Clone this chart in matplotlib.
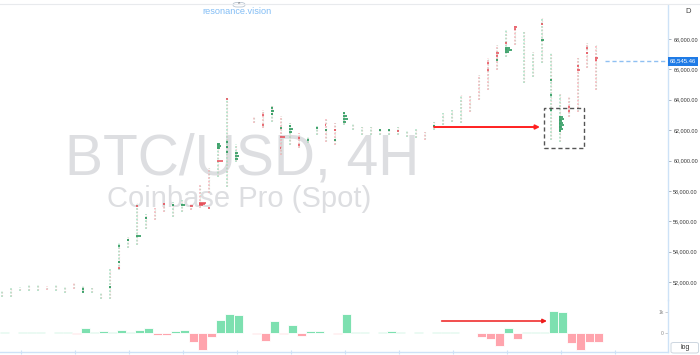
import matplotlib
matplotlib.use("Agg")
import matplotlib.pyplot as plt
import numpy as np
from matplotlib.transforms import blended_transform_factory
from matplotlib.patches import FancyBboxPatch, Rectangle
from matplotlib.lines import Line2D

plt.rcParams['font.family'] = ['Liberation Sans', 'DejaVu Sans']

# ---------------- data ----------------
highs = [51475, 51672, 51672, 51870, 51870, 51738, 51804, 51672, 51935, 51804,
         51607, 51343, 52857, 54569, 54964, 57202, 56478, 56873, 57268, 57268,
         57400, 57202, 58388, 59507, 61219, 64115, 61100, None, 62930, 63325,
         63655, 62930, 62469, 61811, 61548, 62338, 62733, 62469, 63194, 62469,
         62206, 62206, 62140, 62140, 62206, 62009, 62140, 61877, 62535, 63128,
         63325, 64313, 64313, 65630, 66749, 67605, 68593, 68856, 68461, 67144,
         69383, 67078, 64445, 64181, 66749, 67737, 67605]
lows = [51013, 51013, 51409, 51409, 51409, 51475, 51409, 51277, 51541, 51343,
        51277, 50882, 50882, 52791, 54240, 54437, 55490, 56083, 56610, 56280,
        56610, 56741, 56873, 57861, 58914, 58256, 59900, None, 62469, 62140,
        62535, 60363, 61021, 60823, 61153, 61679, 61219, 61021, 62338, 62009,
        61679, 61679, 61679, 61679, 61679, 61548, 61482, 61350, 62009, 62338,
        62535, 62469, 63194, 63984, 64642, 65959, 66815, 67605, 65103, 65498,
        66420, 61350, 61219, 62864, 63194, 66091, 64642]
delta = [48, 8, 48, 48, 48, -16, 48, 48, -63, 238,
         63, 95, 32, 159, 32, 127, 238, -79, -111, 79,
         159, -444, -825, -190, 635, 889, 857, None, -48, -381,
         555, -63, 397, -159, 79, 79, -16, -48, 920, 63,
         48, 8, 48, 79, 32, 8, 32, -16, 32, 48,
         32, 8, -16, -190, -286, -635, 254, -270, 48, 32,
         32, 1031, 1000, -476, -794, -444, -429]

# volume-profile clusters: candle index, price level, size (px), side
blob_candle = [9, 9, 12, 13, 13, 13, 14, 15, 15, 16, 18, 19, 20, 21, 22, 22, 22, 23,
               24, 24, 24, 24, 25, 25, 25, 25, 26, 26, 26, 29, 29, 30, 30, 30,
               31, 31, 31, 32, 32, 32, 33, 33, 34, 35, 36, 36, 37, 37,
               38, 38, 38, 38, 42, 43, 44, 48, 54, 54, 55, 55, 55,
               56, 56, 56, 56, 57, 57, 60, 60, 61, 61, 61,
               62, 62, 62, 62, 62, 62, 62, 62, 63, 63, 64, 64, 65, 65, 66, 66]
blob_price = [51541, 51343, 51672, 54371, 53318, 52923, 54767, 55030, 57005, 56215,
              57136, 57071, 57071, 57005, 57202, 57136, 57071, 56873,
              61087, 60955, 60823, 59968, 61219, 60889, 60560, 64050, 60494, 60297, 60099,
              62996, 62338, 63457, 63260, 63062, 62140, 61548, 60823, 62272, 62074, 61877,
              61482, 61021, 61350, 62140, 62009, 62338, 62009, 61350,
              63128, 62930, 62733, 62535, 62009, 62009, 61943, 62272, 66420, 65959,
              67078, 66881, 66617, 67737, 67407, 67276, 67144, 68790, 68658, 68988, 67934,
              65300, 64313, 63325,
              62864, 62733, 62601, 62469, 62338, 62206, 62074, 61943, 63260, 63523,
              65959, 66222, 67078, 67407, 66749, 66617]
blob_size = [2, 1.5, 1.5, 2, 2, 1.5, 1.5, 4.5, 2, 1.5, 2, 2, 3.5, 3, 7, 6, 4, 1.5,
             3, 4, 3, 6, 2, 2, 2, 2, 3, 4, 3, 1.5, 1.5, 2, 3, 2,
             2, 4.5, 1, 2, 3.5, 2.5, 2, 1.5, 1.5, 1.5, 1.5, 1, 2, 1.5,
             2, 4, 5, 3, 1.5, 1.5, 1.5, 1.5, 2, 2, 3, 2, 2,
             2, 5, 7, 4, 3, 2, 2, 3, 1.5, 1.5, 1.5,
             4, 5, 3, 4, 5, 3, 4, 2, 2, 1.5, 3, 2, 2, 1.5, 3, 2]
blob_side = ['g', 'g', 'g', 'g', 'g', 'r', 'g', 'g', 'r', 'g', 'r', 'g', 'g', 'r', 'r', 'r', 'r', 'r',
             'g', 'g', 'g', 'r', 'g', 'g', 'g', 'r', 'g', 'g', 'g', 'r', 'r', 'g', 'g', 'g',
             'g', 'r', 'r', 'g', 'g', 'g', 'r', 'r', 'g', 'g', 'g', 'r', 'r', 'g',
             'g', 'g', 'g', 'g', 'g', 'g', 'r', 'g', 'r', 'r', 'r', 'r', 'g',
             'r', 'g', 'g', 'g', 'r', 'r', 'r', 'g', 'g', 'g', 'g',
             'g', 'g', 'g', 'g', 'g', 'g', 'g', 'g', 'r', 'r', 'r', 'r', 'r', 'r', 'r', 'r']

price_ticks = [52000, 54000, 56000, 58000, 60000, 62000, 64000, 66000, 68000]
last_price = 66545.46
vol_ticks = [0, 1000]
vol_tick_labels = ['0', '1k']

# annotations
price_arrow = [(48.06, 62206), (59.83, 62206)]
vol_arrow = [(48.9, 571), (60.6, 571)]
box_x = [60.28, 64.72]
box_y = [60823, 63457]

# ---------------- figure ----------------
W, H = 700, 355
fig = plt.figure(figsize=(7, 3.55), dpi=100)
fig.patch.set_facecolor('white')

AX_R = 668
ax = fig.add_axes([0, 1 - 300 / H, AX_R / W, 295 / H])
axv = fig.add_axes([0, 3 / H, AX_R / W, 52 / H])
ax.patch.set_visible(False)
axv.patch.set_visible(False)

xl = (-1.5 / 9, (AX_R - 1.5) / 9)
for a in (ax, axv):
    a.set_xlim(*xl)
ax.set_ylim(50816, 70239)
axv.set_ylim(-905, 1571)

G_LIGHT = '#a6dec0'
R_LIGHT = '#f5b2b8'
G_DARK = '#17904e'
R_DARK = '#e64a55'

# watermark
ax.text(65 / W, 1 - 175 / H, 'BTC/USD, 4H', transform=fig.transFigure, fontsize=41,
        color='#dddee1', ha='left', va='baseline', zorder=0.5)
ax.text(107 / W, 1 - 207 / H, 'Coinbase Pro (Spot)', transform=fig.transFigure, fontsize=21,
        color='#dddee1', ha='left', va='baseline', zorder=0.5)

# candles
n = len(highs)
for k in range(n):
    if highs[k] is None:
        continue
    main = G_LIGHT if delta[k] >= 0 else R_LIGHT
    other = R_LIGHT if delta[k] >= 0 else G_LIGHT
    ax.vlines(k + 0.08, lows[k], highs[k], colors=main, linewidth=1.1,
              linestyles=(0, (1.2, 1.1)), zorder=2)
    ax.vlines(k + 0.08, lows[k], highs[k], colors=other, linewidth=0.9,
              linestyles=(1.2, (0.6, 1.7)), zorder=2, alpha=0.7)

# profile clusters
for c, p, s, side in zip(blob_candle, blob_price, blob_size, blob_side):
    col = G_DARK if side == 'g' else R_DARK
    ax.hlines(p, c, c + s / 9, colors=col, linewidth=1.1, zorder=3)

# last price line & tag
ax.hlines(last_price, 67.06, xl[1], colors='#8fc0f2', linewidth=1,
          linestyles=(0, (3, 2)), zorder=3)
tr = blended_transform_factory(ax.transAxes, ax.transData)
ax.text(1.003, last_price, f'{last_price:,.2f}', transform=tr, fontsize=4.3,
        color='white', ha='left', va='center', zorder=10, clip_on=False,
        bbox=dict(boxstyle='square,pad=0.35', fc='#1f7be6', ec='none'))

# arrows and box
ax.annotate('', xy=price_arrow[1], xytext=price_arrow[0],
            arrowprops=dict(arrowstyle='-|>', color='#ff2020', lw=1.4,
                            mutation_scale=6, shrinkA=0, shrinkB=0), zorder=5)
axv.annotate('', xy=vol_arrow[1], xytext=vol_arrow[0],
             arrowprops=dict(arrowstyle='-|>', color='#ee1c1c', lw=1.1,
                             mutation_scale=6, shrinkA=0, shrinkB=0), zorder=5)
ax.add_patch(Rectangle((box_x[0], box_y[0]), box_x[1] - box_x[0], box_y[1] - box_y[0],
                       fill=False, ec='#555555', lw=1, ls=(0, (3, 2)), zorder=4))

# price axis
for s in ('left', 'top', 'bottom'):
    ax.spines[s].set_visible(False)
ax.spines['right'].set_color('#cde2f7')
ax.spines['right'].set_linewidth(1)
ax.set_xticks([])
ax.yaxis.tick_right()
ax.set_yticks(price_ticks)
ax.set_yticklabels([f'{v:,.2f}' for v in price_ticks])
ax.tick_params(axis='y', direction='out', length=2.2, width=0.6, color='#9aa4ae',
               labelsize=3.9, labelcolor='#333333', pad=1.6)

# volume delta bars
xs = [k + 0.5 - 1.5 / 9 for k in range(n)]
for k in range(n):
    v = delta[k]
    if v is None or v == 0:
        continue
    col = '#7de0b0' if v > 0 else '#ffa4ad'
    alpha = 0.6 if abs(v) < 70 else 1.0
    axv.bar(xs[k], v, width=1.0, color=col, edgecolor='white', linewidth=0.6,
            alpha=alpha, zorder=2)

for s in ('left', 'top'):
    axv.spines[s].set_visible(False)
for s in ('right', 'bottom'):
    axv.spines[s].set_color('#cde2f7')
    axv.spines[s].set_linewidth(1)
axv.yaxis.tick_right()
axv.set_yticks(vol_ticks)
axv.set_yticklabels(vol_tick_labels)
axv.tick_params(axis='y', direction='in', length=2, width=0.5, color='#b0b6bd',
                labelsize=3.6, labelcolor='#888888', pad=-3.2)
for lbl in axv.get_yticklabels():
    lbl.set_horizontalalignment('right')
axv.set_xticks(np.arange(2, 69, 6) + 0.17)
axv.tick_params(axis='x', direction='inout', length=3, width=0.8, color='#cde2f7',
                labelbottom=False)

# chrome
fig.add_artist(Line2D([0, 1], [1 - 4 / H, 1 - 4 / H], color='#e8eaed', lw=0.8))
fig.add_artist(FancyBboxPatch((233 / W, 1 - 7 / H), 12 / W, 4.5 / H,
                              boxstyle='round,pad=0,rounding_size=0.006',
                              fc='white', ec='#b9c4d0', lw=0.6))
fig.text(239 / W, 1 - 4.8 / H, '^', fontsize=3.5, color='#555', ha='center', va='center')
fig.text(237 / W, 1 - 11.5 / H, 'resonance.vision', fontsize=6.6, color='#82bdf5',
         ha='center', va='center')
fig.text(688 / W, 1 - 11.5 / H, 'D', fontsize=5.5, color='#444444', ha='center', va='center')
fig.add_artist(FancyBboxPatch((671 / W, 2 / H), 27.5 / W, 10.5 / H,
                              boxstyle='round,pad=0,rounding_size=0.004',
                              fc='white', ec='#cdd6e0', lw=0.7))
fig.text(685 / W, 7.3 / H, 'log', fontsize=5, color='#333333', ha='center', va='center')

fig.savefig('out.png', dpi=100, facecolor='white')
